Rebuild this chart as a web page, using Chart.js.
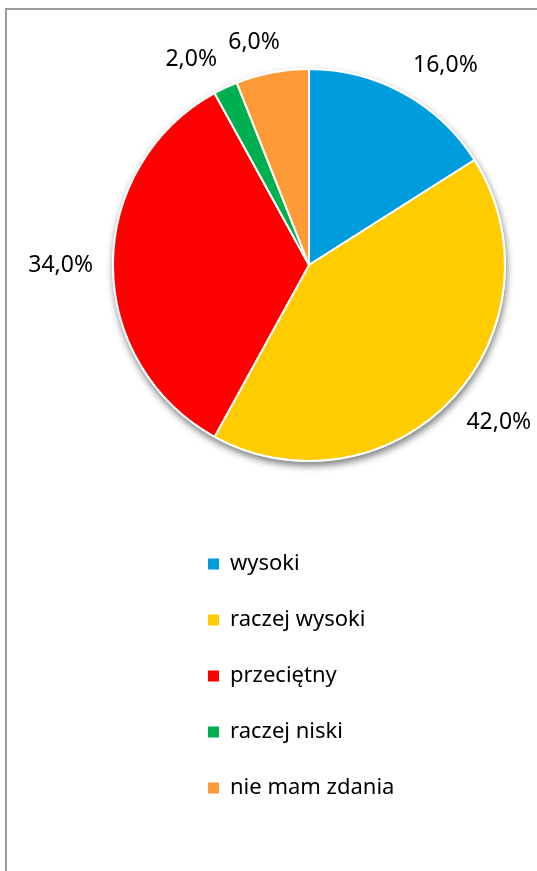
<!DOCTYPE html>
<html>
<head>
<meta charset="utf-8">
<script src="https://cdn.jsdelivr.net/npm/chart.js@4"></script>
<style>
  html, body { margin: 0; padding: 0; background: #fff; overflow: hidden; }
  body { width: 537px; height: 871px; position: relative; }
  #frame { position: absolute; left: 5px; top: 8px; width: 600px; height: 900px; border: 2px solid #9a9a9a; box-sizing: border-box; }
  #pieChart { position: absolute; left: 0; top: 0; }
  #legendChart { position: absolute; left: 174px; top: 519px; }
</style>
</head>
<body>
<div id="frame"></div>
<canvas id="pieChart" width="537" height="871"></canvas>
<canvas id="legendChart" width="260" height="620"></canvas>
<script>
// --- data ---
const categories = ['wysoki', 'raczej wysoki', 'przeciętny', 'raczej niski', 'nie mam zdania'];
const shares = [16.0, 42.0, 34.0, 2.0, 6.0];
const sliceColors = ['#009ddc', '#ffcc00', '#ff0000', '#00b050', '#ff9a38'];

const FONT = '"Noto Sans", "Open Sans", sans-serif';

function fmtPct(v) {
    return v.toFixed(1).replace('.', ',') + '%';
}

function clamp1(v) {
    return Math.max(-1, Math.min(1, v));
}

// soft drop shadow under the whole pie
const pieShadow = {
    id: 'pieShadow',
    beforeDatasetsDraw(chart) {
        const arc = chart.getDatasetMeta(0).data[0];
        if (!arc) return;
        const ctx = chart.ctx;
        ctx.save();
        ctx.beginPath();
        ctx.arc(arc.x, arc.y, arc.outerRadius + 1, 0, Math.PI * 2);
        ctx.fillStyle = '#fff';
        ctx.shadowColor = 'rgba(0,0,0,0.5)';
        ctx.shadowBlur = 7;
        ctx.shadowOffsetY = 4;
        ctx.shadowOffsetX = 1;
        ctx.fill();
        ctx.restore();
    }
};

// percent labels outside each slice: the label's near corner sits just off the rim
const outsideLabels = {
    id: 'outsideLabels',
    afterDatasetsDraw(chart) {
        const ctx = chart.ctx;
        const meta = chart.getDatasetMeta(0);
        ctx.save();
        ctx.font = '23px ' + FONT;
        ctx.fillStyle = '#000';
        ctx.textAlign = 'center';
        ctx.textBaseline = 'middle';
        meta.data.forEach((arc, i) => {
            const text = fmtPct(shares[i]);
            const w = ctx.measureText(text).width;
            const h = 20;
            const mid = (arc.startAngle + arc.endAngle) / 2;
            const c = Math.cos(mid), s = Math.sin(mid);
            const d = arc.outerRadius + 20;
            const x = arc.x + c * d + 0.5 * w * clamp1(3 * c);
            const y = arc.y + s * d + 0.5 * h * clamp1(3 * s);
            ctx.fillText(text, x, y);
        });
        ctx.restore();
    }
};

new Chart(document.getElementById('pieChart'), {
    type: 'pie',
    data: {
        labels: categories,
        datasets: [{
            data: shares,
            backgroundColor: sliceColors,
            borderColor: '#fff',
            borderWidth: 2
        }]
    },
    options: {
        responsive: false,
        animation: false,
        layout: { padding: { left: 112, right: 31, top: 68, bottom: 409 } },
        plugins: {
            legend: { display: false },
            tooltip: { enabled: false }
        }
    },
    plugins: [pieShadow, outsideLabels]
});

// narrow second chart that only shows the legend, one item per row
const hidePie = {
    id: 'hidePie',
    beforeDatasetsDraw() { return false; }
};

new Chart(document.getElementById('legendChart'), {
    type: 'pie',
    data: {
        labels: categories,
        datasets: [{
            data: shares,
            backgroundColor: sliceColors,
            borderWidth: 0
        }]
    },
    options: {
        responsive: false,
        animation: false,
        plugins: {
            legend: {
                position: 'top',
                align: 'start',
                labels: {
                    boxWidth: 11,
                    boxHeight: 11,
                    padding: 34,
                    color: '#000',
                    font: { family: FONT, size: 22 }
                }
            },
            tooltip: { enabled: false }
        }
    },
    plugins: [hidePie]
});
</script>
</body>
</html>
